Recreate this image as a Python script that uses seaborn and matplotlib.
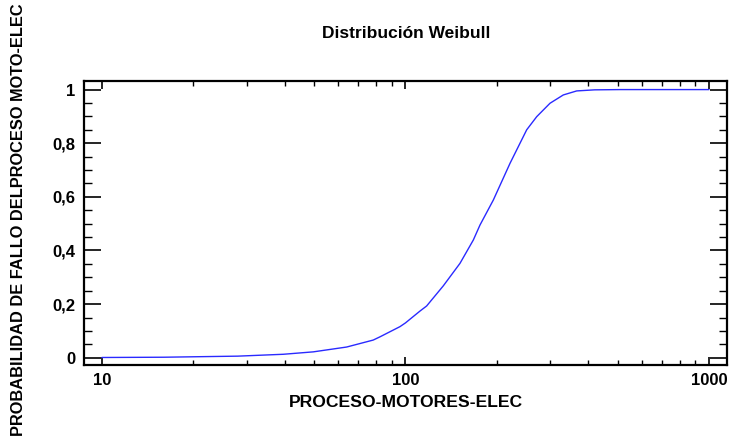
import matplotlib
matplotlib.use("Agg")
import matplotlib.pyplot as plt
from matplotlib.ticker import FixedLocator, MultipleLocator, NullFormatter, FuncFormatter
import numpy as np
import pandas as pd
import seaborn as sns

# Weibull cumulative failure probability vs. operating time
tiempo = [10, 16, 21, 28, 39.6, 49.7, 64.0, 78.3, 82.4, 95.9, 100, 111.6, 117.4,
          133.2, 151.2, 167.3, 176.0, 194.7, 221.0, 250.8, 270.6, 299.3, 331.1,
          366.5, 420, 509, 700, 1000]
probabilidad = [0.001, 0.002, 0.004, 0.006, 0.013, 0.022, 0.040, 0.066, 0.078,
                0.116, 0.130, 0.174, 0.193, 0.268, 0.352, 0.439, 0.495, 0.588,
                0.725, 0.850, 0.899, 0.949, 0.980, 0.995, 0.999, 1.0, 1.0, 1.0]

x_ticks = [10, 100, 1000]
x_tick_labels = ["10", "100", "1000"]
y_ticks = [0, 0.2, 0.4, 0.6, 0.8, 1.0]

titulo = "Distribución Weibull"
etiqueta_x = "PROCESO-MOTORES-ELEC"
etiqueta_y = "PROBABILIDAD DE FALLO DELPROCESO MOTO-ELEC"

sns.set_style("ticks")
plt.rcParams["font.family"] = ["Liberation Sans", "DejaVu Sans"]
plt.rcParams["font.weight"] = "bold"
plt.rcParams["text.color"] = "black"

df = pd.DataFrame({"t": tiempo, "p": probabilidad})

fig = plt.figure(figsize=(7.3, 4.4), dpi=100)
ax = fig.add_axes([84 / 730, 1 - 365 / 440, (727 - 84) / 730, (365 - 81) / 440])

sns.lineplot(data=df, x="t", y="p", ax=ax, color="#2a2aff", linewidth=1.0,
             estimator=None, sort=True)

ax.set_xscale("log")
ax.set_xlim(8.73, 1146)
ax.set_ylim(-0.027, 1.032)

ax.xaxis.set_major_locator(FixedLocator(x_ticks))
ax.xaxis.set_major_formatter(FuncFormatter(
    lambda v, pos: x_tick_labels[x_ticks.index(int(round(v)))] if int(round(v)) in x_ticks else ""))
ax.xaxis.set_minor_locator(FixedLocator([m * d for d in (10, 100) for m in range(2, 10)]))
ax.xaxis.set_minor_formatter(NullFormatter())

ax.yaxis.set_major_locator(FixedLocator(y_ticks))
ax.yaxis.set_major_formatter(FuncFormatter(
    lambda v, pos: ("%g" % round(v, 1)).replace(".", ",")))
ax.yaxis.set_minor_locator(MultipleLocator(0.05))

for side in ["left", "right", "top", "bottom"]:
    ax.spines[side].set_visible(True)
    ax.spines[side].set_linewidth(1.6)
    ax.spines[side].set_color("black")

ax.tick_params(axis="y", which="major", direction="in", length=12, width=1.2,
               left=True, right=True, labelsize=12, pad=6, colors="black")
ax.tick_params(axis="y", which="minor", direction="in", length=6, width=1.0,
               left=True, right=True, colors="black")
ax.tick_params(axis="x", which="major", direction="in", length=6, width=1.2,
               bottom=True, top=True, labelsize=12, pad=6, colors="black")
ax.tick_params(axis="x", which="minor", direction="in", length=3.5, width=1.0,
               bottom=True, top=True, colors="black")
for lbl in ax.get_xticklabels() + ax.get_yticklabels():
    lbl.set_fontweight("bold")

ax.set_xlabel("")
ax.set_ylabel("")
fig.text(406 / 730, 1 - 33 / 440, titulo, ha="center", va="center",
         fontsize=12.5, fontweight="bold", color="black")
fig.text(406 / 730, 1 - 402 / 440, etiqueta_x, ha="center", va="center",
         fontsize=12.6, fontweight="bold", color="black")
fig.text(19 / 730, 0.5, etiqueta_y, ha="center", va="center", rotation=90,
         fontsize=11.8, fontweight="bold", color="black")

fig.savefig("out.png", dpi=100)
